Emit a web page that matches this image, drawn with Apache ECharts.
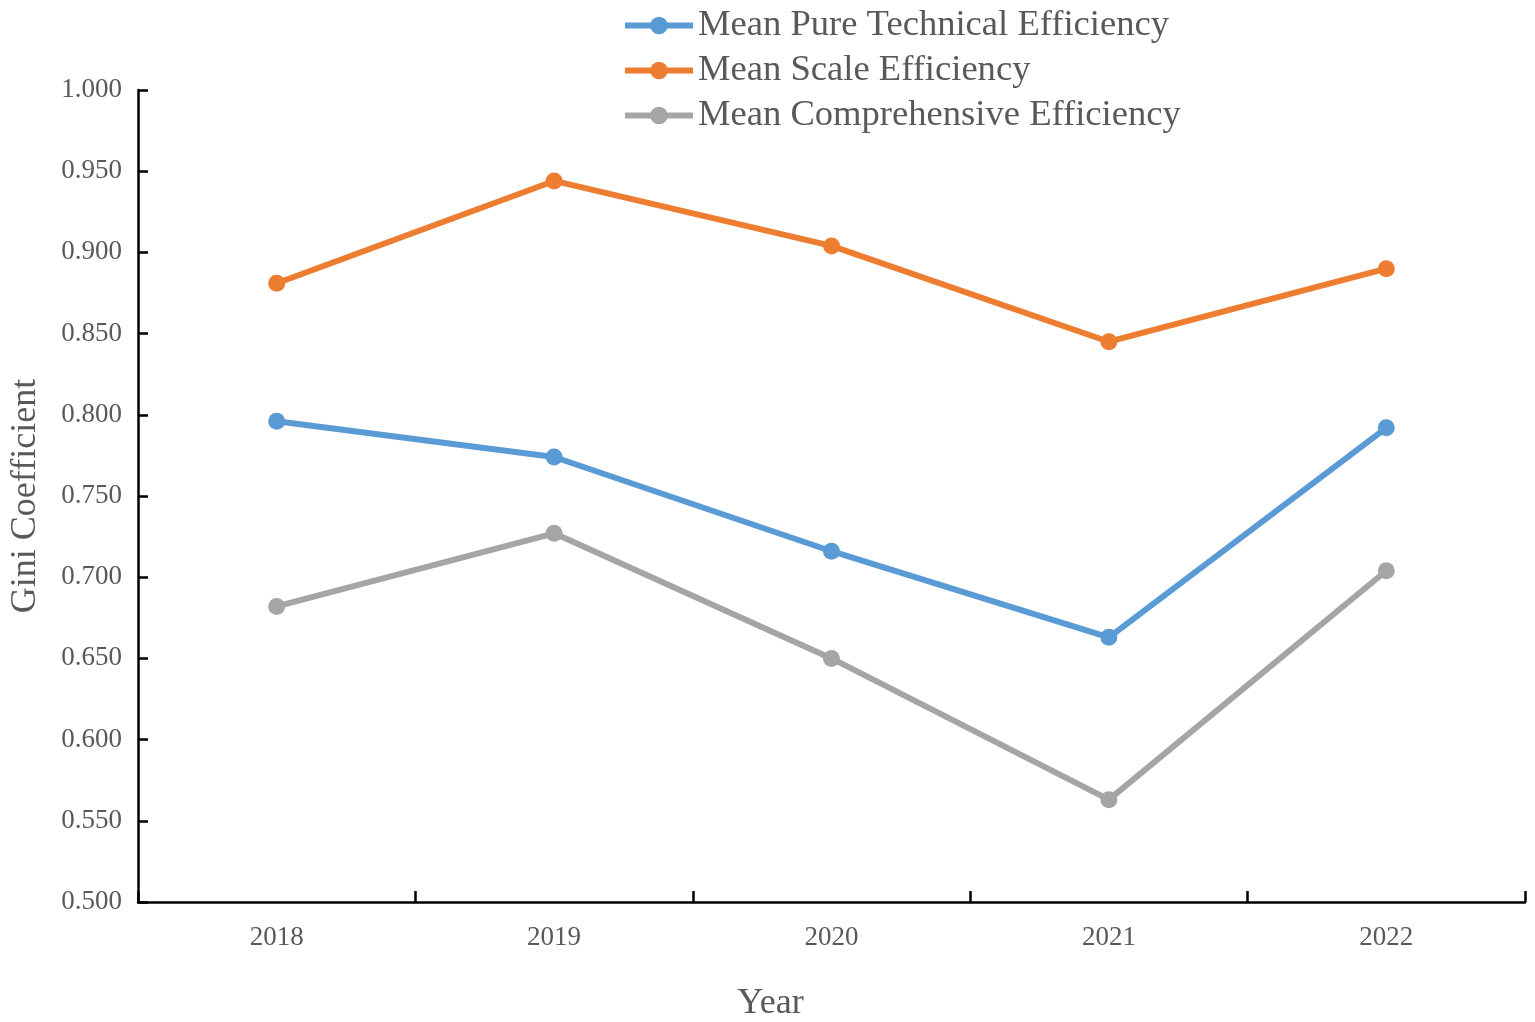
<!DOCTYPE html>
<html>
<head>
<meta charset="utf-8">
<script src="https://cdn.jsdelivr.net/npm/echarts@6/dist/echarts.min.js"></script>
<style>html,body{margin:0;padding:0;background:#fff;}#main{width:1535px;height:1022px;}</style>
</head>
<body>
<div id="main"></div>
<script>
const years = ['2018', '2019', '2020', '2021', '2022'];
const pureTechnical = [0.796, 0.774, 0.716, 0.663, 0.792];
const scaleEff = [0.881, 0.944, 0.904, 0.845, 0.890];
const comprehensive = [0.682, 0.727, 0.650, 0.563, 0.704];
const seriesNames = ['Mean Pure Technical Efficiency', 'Mean Scale Efficiency', 'Mean Comprehensive Efficiency'];
const colors = ['#5B9BD5', '#ED7D31', '#A5A5A5'];

const font = 'Liberation Serif, Times New Roman, serif';
const chart = echarts.init(document.getElementById('main'));
const mk = (name, data, color) => ({
  name, type: 'line', data,
  symbol: 'circle', symbolSize: 17,
  lineStyle: { width: 6, color },
  itemStyle: { color },
  animation: false
});
chart.setOption({
  animation: false,
  textStyle: { fontFamily: font },
  legend: {
    orient: 'vertical', left: 617, top: 2,
    itemWidth: 68, itemHeight: 22, itemGap: 8,
    lineStyle: { width: 6 },
    textStyle: { fontFamily: font, fontSize: 36.6, color: '#595959' },
    data: seriesNames
  },
  grid: { left: 138, right: 10, top: 90, bottom: 120, containLabel: false, outerBoundsMode: 'none' },
  xAxis: {
    type: 'category', data: years, boundaryGap: true,
    name: 'Year', nameLocation: 'middle', nameGap: 84,
    nameTextStyle: { fontFamily: font, fontSize: 36, color: '#595959', padding: [0, 122, 0, 0] },
    axisLine: { show: true, lineStyle: { color: '#000', width: 2.5 } },
    axisTick: { show: true, inside: true, length: 11, interval: 0, lineStyle: { color: '#000', width: 2.5 } },
    axisLabel: { fontFamily: font, fontSize: 27, color: '#595959', margin: 22 },
    splitLine: { show: false }
  },
  yAxis: {
    type: 'value', min: 0.5, max: 1.0, interval: 0.05,
    name: 'Gini Coefficient', nameLocation: 'middle', nameGap: 94,
    nameTextStyle: { fontFamily: font, fontSize: 36, color: '#595959' },
    axisLine: { show: true, lineStyle: { color: '#000', width: 2.5 } },
    axisTick: { show: true, inside: true, length: 10, lineStyle: { color: '#000', width: 2.5 } },
    axisLabel: { fontFamily: font, fontSize: 27, color: '#595959', margin: 16, formatter: v => v.toFixed(3) },
    splitLine: { show: false }
  },
  series: [
    mk(seriesNames[0], pureTechnical, colors[0]),
    mk(seriesNames[1], scaleEff, colors[1]),
    mk(seriesNames[2], comprehensive, colors[2])
  ]
});
</script>
</body>
</html>
